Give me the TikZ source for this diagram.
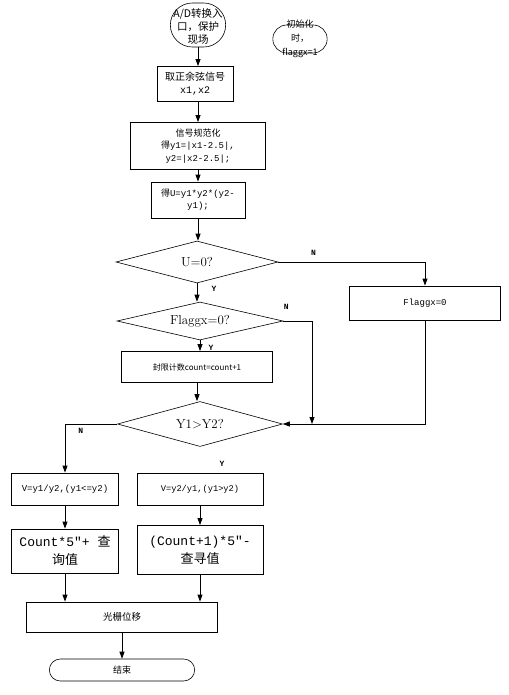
\documentclass[tikz,border=0pt]{standalone}
\usepackage{fontspec}
\newfontfamily\cjk{Noto Sans CJK SC}
\newfontfamily\mono{Liberation Mono}
\usetikzlibrary{shapes.geometric,shapes.misc,arrows.meta}

\tikzset{
	proc/.style={draw,line width=0.8pt,inner sep=1pt,align=center},
	cond/.style={draw,diamond,aspect=4,line width=0.6pt,inner sep=0pt},
	term/.style={draw,rounded rectangle,line width=0.6pt},
	txt/.style={align=center,inner sep=0pt},
	flow/.style={line width=0.8pt,-{Triangle[length=7pt,width=5pt]}},
	lbl/.style={font=\mono\bfseries\fontsize{8}{9}\selectfont}
}

\begin{document}
\begin{tikzpicture}[x=1pt,y=-1pt]
	\useasboundingbox (0,0) rectangle (508,695);
	\node[term,minimum width=62pt,minimum height=44pt] (start) at (198,25) {};
	\node[txt,font=\cjk\fontsize{10.5}{13}\selectfont] at (198,27) {A/D转换入\\口，保护\\现场};
	\node[term,minimum width=61pt,minimum height=28pt] (init) at (300,39) {};
	\node[txt,font=\cjk\fontsize{9}{14}\selectfont] at (300,39) {初始化\\时，\\flaggx=1};
	\node[proc,minimum width=76pt,minimum height=35pt,font=\fontsize{10}{13}\selectfont] (sig) at (195,84) {\cjk 取正余弦信号\\\mono x1,x2};
	\node[proc,minimum width=135pt,minimum height=47pt,font=\fontsize{9}{12.5}\selectfont] (norm) at (198,146) {\cjk 信号规范化\\{\cjk 得}\mono y1=|x1-2.5|,\\\mono y2=|x2-2.5|;};
	\node[proc,minimum width=94pt,minimum height=36pt,font=\fontsize{9}{12}\selectfont] (prod) at (198,200) {{\cjk 得}\mono U=y1*y2*(y2-\\\mono y1);};
	\node[cond,minimum width=162pt,minimum height=42pt,font=\fontsize{13}{15}\selectfont] (d1) at (197,262) {U=0?};
	\node[proc,minimum width=151pt,minimum height=34pt,font=\mono\fontsize{9}{11}\selectfont] (flag) at (425,303) {Flaggx=0};
	\node[cond,minimum width=166pt,minimum height=38pt,font=\fontsize{13}{15}\selectfont] (d2) at (200,321) {Flaggx=0?};
	\node[proc,minimum width=151pt,minimum height=31pt,font=\cjk\fontsize{8}{10}\selectfont] (cnt) at (197,367) {封限计数count=count+1};
	\node[cond,minimum width=165pt,minimum height=45pt,font=\fontsize{13}{15}\selectfont] (d3) at (200,424) {Y1>Y2?};
	\node[proc,minimum width=107pt,minimum height=32pt,font=\mono\fontsize{9}{11}\selectfont] (v1) at (65,489) {V=y1/y2,(y1<=y2)};
	\node[proc,minimum width=126pt,minimum height=32pt,font=\mono\fontsize{8.7}{11}\selectfont] (v2) at (200,489) {V=y2/y1,(y1>y2)};
	\node[proc,minimum width=107pt,minimum height=44pt,font=\fontsize{13}{18}\selectfont] (c1) at (65,551) {{\mono Count*5″+ }{\cjk 查}\\\cjk 询值};
	\node[proc,minimum width=126pt,minimum height=49pt,font=\fontsize{13}{18}\selectfont] (c2) at (200,550) {\mono (Count+1)*5″-\\\cjk 查寻值};
	\node[proc,minimum width=191pt,minimum height=30pt,font=\cjk\fontsize{9.5}{11}\selectfont] (move) at (122,617) {光栅位移};
	\node[term,minimum width=152pt,minimum height=22pt,font=\cjk\fontsize{9}{11}\selectfont] (end) at (122,670) {结束};
	\coordinate (merge) at (312,424);

	\draw[flow] (start.south) -- (start.south |- sig.north);
	\draw[flow] (norm.north |- sig.south) -- (norm.north);
	\draw[flow] (norm.south) -- (prod.north);
	\draw[flow] (prod.south) -- (prod.south |- d1.north);
	\draw[flow] (d1.south) -- (d1.south |- d2.north) node[lbl,pos=0.3,right=11pt] {Y};
	\draw[flow] (d1.east) -| (flag.north) node[lbl,pos=0.12,above=3pt] {N};
	\draw[flow] (d2.south) -- (d2.south |- cnt.north) node[lbl,pos=0.7,right=5pt] {Y};
	\draw[flow] (d2.east) -| (merge) node[lbl,pos=0.05,above=8pt] {N};
	\draw[flow] (flag.south) |- (d3.east);
	\draw[flow] (cnt.south) -- (cnt.south |- d3.north);
	\draw[flow] (d3.west) -| (v1.north) node[lbl,pos=0.35,below=0pt] {N};
	\node[lbl] at (222,464) {Y};
	\draw[flow] (v1.south) -- (c1.north);
	\draw[flow] (v2.south) -- (c2.north);
	\draw[flow] (c1.south) -- (c1.south |- move.north);
	\draw[flow] (c2.south) -- (c2.south |- move.north);
	\draw[flow] (move.south) -- (end.north);
\end{tikzpicture}
\end{document}
